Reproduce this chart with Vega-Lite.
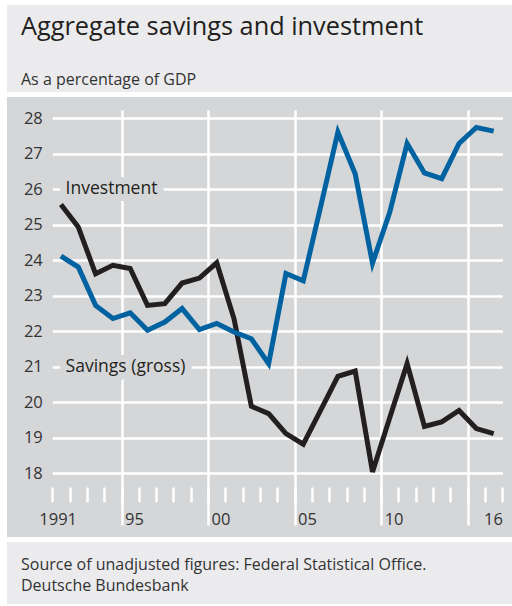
{
  "$schema": "https://vega.github.io/schema/vega-lite/v6.json",
  "background": "white",
  "padding": {"left": 7, "top": 5, "right": 0, "bottom": 0},
  "autosize": {"type": "pad"},
  "spacing": 5,
  "config": {"view": {"stroke": null}, "font": "Open Sans"},
  "datasets": {
    "series": [
      {"year": 1991, "value": 25.57, "series": "Investment"},
      {"year": 1992, "value": 24.94, "series": "Investment"},
      {"year": 1993, "value": 23.62, "series": "Investment"},
      {"year": 1994, "value": 23.86, "series": "Investment"},
      {"year": 1995, "value": 23.77, "series": "Investment"},
      {"year": 1996, "value": 22.73, "series": "Investment"},
      {"year": 1997, "value": 22.78, "series": "Investment"},
      {"year": 1998, "value": 23.36, "series": "Investment"},
      {"year": 1999, "value": 23.5, "series": "Investment"},
      {"year": 2000, "value": 23.93, "series": "Investment"},
      {"year": 2001, "value": 22.35, "series": "Investment"},
      {"year": 2002, "value": 19.89, "series": "Investment"},
      {"year": 2003, "value": 19.68, "series": "Investment"},
      {"year": 2004, "value": 19.12, "series": "Investment"},
      {"year": 2005, "value": 18.82, "series": "Investment"},
      {"year": 2006, "value": 19.77, "series": "Investment"},
      {"year": 2007, "value": 20.73, "series": "Investment"},
      {"year": 2008, "value": 20.88, "series": "Investment"},
      {"year": 2009, "value": 18.04, "series": "Investment"},
      {"year": 2010, "value": 19.57, "series": "Investment"},
      {"year": 2011, "value": 21.09, "series": "Investment"},
      {"year": 2012, "value": 19.32, "series": "Investment"},
      {"year": 2013, "value": 19.45, "series": "Investment"},
      {"year": 2014, "value": 19.77, "series": "Investment"},
      {"year": 2015, "value": 19.26, "series": "Investment"},
      {"year": 2016, "value": 19.12, "series": "Investment"},
      {"year": 1991, "value": 24.12, "series": "Savings"},
      {"year": 1992, "value": 23.81, "series": "Savings"},
      {"year": 1993, "value": 22.73, "series": "Savings"},
      {"year": 1994, "value": 22.36, "series": "Savings"},
      {"year": 1995, "value": 22.52, "series": "Savings"},
      {"year": 1996, "value": 22.03, "series": "Savings"},
      {"year": 1997, "value": 22.26, "series": "Savings"},
      {"year": 1998, "value": 22.64, "series": "Savings"},
      {"year": 1999, "value": 22.05, "series": "Savings"},
      {"year": 2000, "value": 22.22, "series": "Savings"},
      {"year": 2001, "value": 21.98, "series": "Savings"},
      {"year": 2002, "value": 21.79, "series": "Savings"},
      {"year": 2003, "value": 21.09, "series": "Savings"},
      {"year": 2004, "value": 23.63, "series": "Savings"},
      {"year": 2005, "value": 23.42, "series": "Savings"},
      {"year": 2006, "value": 25.5, "series": "Savings"},
      {"year": 2007, "value": 27.61, "series": "Savings"},
      {"year": 2008, "value": 26.44, "series": "Savings"},
      {"year": 2009, "value": 23.92, "series": "Savings"},
      {"year": 2010, "value": 25.36, "series": "Savings"},
      {"year": 2011, "value": 27.29, "series": "Savings"},
      {"year": 2012, "value": 26.46, "series": "Savings"},
      {"year": 2013, "value": 26.3, "series": "Savings"},
      {"year": 2014, "value": 27.29, "series": "Savings"},
      {"year": 2015, "value": 27.74, "series": "Savings"},
      {"year": 2016, "value": 27.64, "series": "Savings"}
    ],
    "labels": [
      {"label": "Investment", "x": 1991.27, "y": 26},
      {"label": "Savings (gross)", "x": 1991.27, "y": 21}
    ]
  },
  "vconcat": [
    {
      "width": 505,
      "height": 87,
      "view": {"fill": "#ebebed", "stroke": null},
      "title": {
        "text": "Aggregate savings and investment",
        "subtitle": "As a percentage of GDP",
        "anchor": "start",
        "frame": "group",
        "orient": "top",
        "offset": -83,
        "dx": 14,
        "font": "Open Sans",
        "fontSize": 25.3,
        "fontWeight": "normal",
        "color": "#231f20",
        "subtitleFont": "Open Sans",
        "subtitleFontSize": 16,
        "subtitleColor": "#333333",
        "subtitlePadding": 32
      },
      "data": {"values": []},
      "mark": "point"
    },
    {
      "width": 505,
      "height": 440,
      "view": {"fill": "#d5d6d8", "stroke": null},
      "resolve": {"axis": {"x": "independent"}},
      "layer": [
        {
          "data": {"name": "labels"},
          "mark": {"type": "text", "align": "left", "baseline": "middle", "font": "Open Sans", "fontSize": 17.5, "fill": "#d5d6d8", "stroke": "#d5d6d8", "strokeWidth": 14, "strokeJoin": "round"},
          "encoding": {
            "x": {"field": "x", "type": "quantitative", "scale": {"domain": [1987.883, 2017.06], "nice": false, "zero": false},
              "axis": {"orient": "top", "offset": -428, "values": [1994.5, 1999.5, 2004.5, 2009.5, 2014.5], "tickSize": 415, "tickWidth": 2.5, "tickColor": "white", "labels": false, "domain": false, "grid": false, "title": null}},
            "y": {"field": "y", "type": "quantitative", "scale": {"domain": [16.206, 28.6], "nice": false, "zero": false},
              "axis": {
                "orient": "left", "offset": -495.3,
                "values": [18, 19, 20, 21, 22, 23, 24, 25, 26, 27, 28],
                "tickSize": 450, "tickWidth": 2.5, "tickColor": "white", "domain": false, "grid": false, "title": null,
                "labelPadding": 10, "labelFont": "Open Sans", "labelFontSize": 16.5, "labelColor": "#333333",
                "labelOverlap": false, "labelFlush": false, "labelBound": false
              }},
            "text": {"field": "label"}
          }
        },
        {
          "data": {"name": "series"},
          "mark": {"type": "line", "strokeWidth": 5},
          "encoding": {
            "x": {"field": "year", "type": "quantitative", "scale": {"domain": [1987.883, 2017.06], "nice": false, "zero": false},
              "axis": {
                "orient": "bottom", "offset": -50,
                "values": [1990.5, 1991.5, 1992.5, 1993.5, 1994.5, 1995.5, 1996.5, 1997.5, 1998.5, 1999.5, 2000.5, 2001.5, 2002.5, 2003.5, 2004.5, 2005.5, 2006.5, 2007.5, 2008.5, 2009.5, 2010.5, 2011.5, 2012.5, 2013.5, 2014.5, 2015.5, 2016.5],
                "tickSize": 15, "tickWidth": 2.5, "tickColor": "white", "domain": false, "grid": false, "title": null,
                "labelExpr": "datum.value == 1990.5 ? '1991' : datum.value == 1994.5 ? '95' : datum.value == 1999.5 ? '00' : datum.value == 2004.5 ? '05' : datum.value == 2009.5 ? '10' : datum.value == 2015.5 ? '16' : ''",
                "labelAlign": "left",
                "labelOffset": {"condition": [{"test": "datum.value == 1990.5", "value": -13.5}, {"test": "datum.value == 2015.5", "value": -1.5}], "value": 3},
                "labelPadding": 9, "labelFont": "Open Sans", "labelFontSize": 16.5, "labelColor": "#333333",
                "labelOverlap": false, "labelFlush": false, "labelBound": false
              }},
            "y": {"field": "value", "type": "quantitative", "scale": {"domain": [16.206, 28.6], "nice": false, "zero": false},
              "axis": {
                "orient": "left", "offset": -495.3,
                "values": [18, 19, 20, 21, 22, 23, 24, 25, 26, 27, 28],
                "tickSize": 450, "tickWidth": 2.5, "tickColor": "white", "domain": false, "grid": false, "title": null,
                "labelPadding": 10, "labelFont": "Open Sans", "labelFontSize": 16.5, "labelColor": "#333333",
                "labelOverlap": false, "labelFlush": false, "labelBound": false
              }},
            "color": {"field": "series", "type": "nominal", "scale": {"domain": ["Investment", "Savings"], "range": ["#231f20", "#0062a0"]}, "legend": null}
          }
        },
        {
          "data": {"name": "labels"},
          "mark": {"type": "text", "align": "left", "baseline": "middle", "font": "Open Sans", "fontSize": 17.5, "fill": "#231f20"},
          "encoding": {
            "x": {"field": "x", "type": "quantitative", "scale": {"domain": [1987.883, 2017.06], "nice": false, "zero": false}, "axis": null},
            "y": {"field": "y", "type": "quantitative", "scale": {"domain": [16.206, 28.6], "nice": false, "zero": false},
              "axis": {
                "orient": "left", "offset": -495.3,
                "values": [18, 19, 20, 21, 22, 23, 24, 25, 26, 27, 28],
                "tickSize": 450, "tickWidth": 2.5, "tickColor": "white", "domain": false, "grid": false, "title": null,
                "labelPadding": 10, "labelFont": "Open Sans", "labelFontSize": 16.5, "labelColor": "#333333",
                "labelOverlap": false, "labelFlush": false, "labelBound": false
              }},
            "text": {"field": "label"}
          }
        }
      ]
    },
    {
      "width": 505,
      "height": 62,
      "view": {"fill": "#ebebed", "stroke": null},
      "title": {
        "text": ["Source of unadjusted figures: Federal Statistical Office.", "Deutsche Bundesbank"],
        "anchor": "start",
        "frame": "group",
        "orient": "top",
        "offset": -52,
        "dx": 14,
        "font": "Open Sans",
        "fontSize": 16,
        "fontWeight": "normal",
        "color": "#333333",
        "lineHeight": 21
      },
      "data": {"values": []},
      "mark": "point"
    }
  ]
}
